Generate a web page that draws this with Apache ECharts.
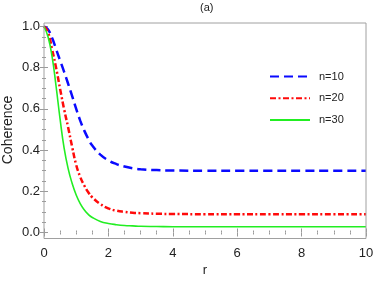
<!DOCTYPE html>
<html>
<head>
<meta charset="utf-8">
<script src="https://cdn.jsdelivr.net/npm/echarts@6/dist/echarts.min.js"></script>
<style>
html,body{margin:0;padding:0;background:#fff;}
#chart{width:374px;height:284px;}
</style>
</head>
<body>
<div id="chart"></div>
<script>
// r values (x axis)
const rValues = [0, 0.125, 0.25, 0.375, 0.5, 0.625, 0.75, 0.875, 1.0, 1.125, 1.25, 1.375, 1.5, 1.75, 2.0, 2.25, 2.5, 2.75, 3, 3.5, 4, 5, 6, 7, 8, 9, 10];
// Coherence for n=10 (blue dashed)
const n10 = [1.0, 0.985, 0.945, 0.89, 0.835, 0.78, 0.722, 0.662, 0.60, 0.543, 0.495, 0.455, 0.422, 0.378, 0.350, 0.332, 0.320, 0.312, 0.307, 0.303, 0.301, 0.300, 0.300, 0.300, 0.300, 0.300, 0.300];
// Coherence for n=20 (red dash-dot)
const n20 = [1.0, 0.972, 0.89, 0.80, 0.697, 0.598, 0.51, 0.415, 0.328, 0.27, 0.228, 0.195, 0.171, 0.138, 0.117, 0.106, 0.100, 0.096, 0.094, 0.091, 0.090, 0.089, 0.089, 0.089, 0.089, 0.089, 0.089];
// Coherence for n=30 (green solid)
const n30 = [1.0, 0.95, 0.855, 0.71, 0.55, 0.41, 0.31, 0.238, 0.182, 0.14, 0.11, 0.088, 0.073, 0.054, 0.044, 0.038, 0.034, 0.032, 0.030, 0.029, 0.028, 0.028, 0.028, 0.028, 0.028, 0.028, 0.028];
const seriesNames = ['n=10', 'n=20', 'n=30'];
const xTickLabels = ['0', '2', '4', '6', '8', '10'];
const yTickLabels = ['0.0', '0.2', '0.4', '0.6', '0.8', '1.0'];
const yAxisTitle = 'Coherence';
const xAxisTitle = 'r';

const pairs = arr => rValues.map((r, i) => [r, arr[i]]);
const tickColor = '#9a9a9a';
const txt = '#222';
const font = 'Liberation Sans, Arial, sans-serif';

const xBase = {
  type: 'value', min: 0, max: 10, interval: 2,
  axisLine: { show: false },
  splitLine: { show: false },
  axisTick: { show: true, inside: true, length: 4, lineStyle: { color: tickColor } },
  minorTick: { show: true, splitNumber: 4, length: 2, lineStyle: { color: tickColor } },
};
const yBase = {
  type: 'value', min: 0, max: 1, interval: 0.2,
  axisLine: { show: false },
  splitLine: { show: false },
  axisTick: { show: true, inside: true, length: 4, lineStyle: { color: tickColor } },
  minorTick: { show: true, splitNumber: 4, length: 2, lineStyle: { color: tickColor } },
};

const chart = echarts.init(document.getElementById('chart'), null, { renderer: 'canvas' });
chart.setOption({
  animation: false,
  backgroundColor: '#fff',
  textStyle: { fontFamily: font },
  title: {
    text: '(a)', left: 195, top: -3,
    textStyle: { fontSize: 11, fontWeight: 'normal', color: txt, fontFamily: font }
  },
  grid: { left: 44, right: 8, top: 26.5, bottom: 51.5, containLabel: false, outerBoundsMode: 'none' },
  xAxis: [
    Object.assign({}, xBase, {
      position: 'bottom', offset: 6,
      name: xAxisTitle, nameLocation: 'middle', nameGap: 25,
      nameTextStyle: { fontSize: 13, color: txt, fontFamily: font },
      axisLabel: { show: true, margin: 8, fontSize: 13, color: txt, fontFamily: font,
        formatter: v => xTickLabels[Math.round(v / 2)] }
    }),
    Object.assign({}, xBase, {
      position: 'top', offset: 3.5,
      axisLabel: { show: false }
    })
  ],
  yAxis: [
    Object.assign({}, yBase, {
      position: 'left',
      axisLabel: { show: true, margin: 4, fontSize: 13, color: txt, fontFamily: font,
        formatter: v => yTickLabels[Math.round(v * 5)] }
    }),
    Object.assign({}, yBase, {
      position: 'right',
      axisLabel: { show: false }
    })
  ],
  legend: {
    orient: 'vertical', left: 264, top: 66,
    itemWidth: 40, itemHeight: 14, itemGap: 10.5,
    itemStyle: { opacity: 0 },
    textStyle: { fontSize: 11, color: txt, fontFamily: font, padding: [0, 0, 0, 4] },
    data: seriesNames
  },
  graphic: [
    {
      type: 'rect', silent: true, z: 10,
      shape: { x: 44, y: 23, width: 322, height: 215.5 },
      style: { fill: 'none', stroke: '#a0a0a0', lineWidth: 1 }
    },
    {
      type: 'text', silent: true, x: 8, y: 130, rotation: Math.PI / 2,
      style: { text: yAxisTitle, fontSize: 14, fill: txt, fontFamily: font,
        align: 'center', verticalAlign: 'middle' }
    }
  ],
  series: [
    {
      name: seriesNames[0], type: 'line', data: pairs(n10), symbol: 'none',
      smooth: 0.5, z: 3,
      lineStyle: { color: '#0a0aff', width: 2.5, type: [9, 5] },
      itemStyle: { color: '#0a0aff' }
    },
    {
      name: seriesNames[1], type: 'line', data: pairs(n20), symbol: 'none',
      smooth: 0.5, z: 4,
      lineStyle: { color: '#ff0a0a', width: 2.5, type: [6, 2.5, 2, 2.5] },
      itemStyle: { color: '#ff0a0a' }
    },
    {
      name: seriesNames[2], type: 'line', data: pairs(n30), symbol: 'none',
      smooth: 0.5, z: 5,
      lineStyle: { color: '#22ee22', width: 1.6, type: 'solid' },
      itemStyle: { color: '#22ee22' }
    }
  ]
});
</script>
</body>
</html>
